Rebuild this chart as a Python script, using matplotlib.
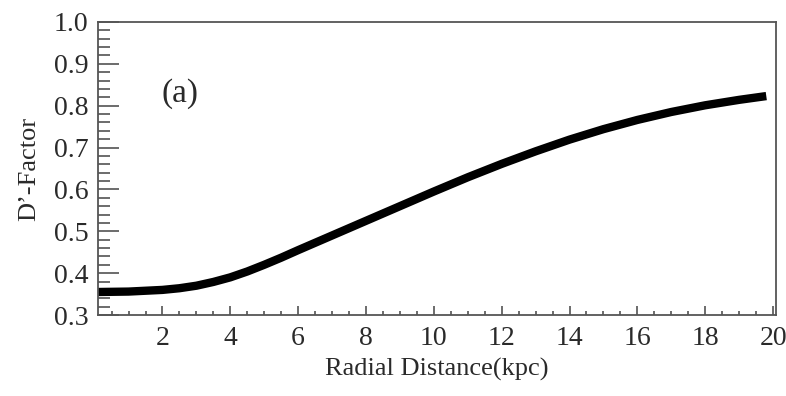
#!/usr/bin/env python3

import matplotlib
matplotlib.use('Agg')
import matplotlib.pyplot as plt
from matplotlib.ticker import MultipleLocator

# Data
radius = [0.1, 1, 2, 2.5, 3, 3.5, 4, 4.5, 5, 5.5, 6, 7, 8, 9, 10, 11, 12, 13,
          14, 15, 16, 17, 18, 19, 19.8]
d_factor = [0.355, 0.356, 0.360, 0.364, 0.370, 0.379, 0.390, 0.404, 0.420, 0.437,
            0.455, 0.490, 0.525, 0.560, 0.595, 0.629, 0.661, 0.691, 0.719, 0.744,
            0.766, 0.785, 0.801, 0.814, 0.823]
x_ticks = [2, 4, 6, 8, 10, 12, 14, 16, 18, 20]
y_ticks = [0.3, 0.4, 0.5, 0.6, 0.7, 0.8, 0.9, 1.0]

plt.rcParams['font.family'] = ['Liberation Serif', 'DejaVu Serif']

fig = plt.figure(figsize=(7.86, 3.96), dpi=100)
ax = fig.add_axes([0.1247, 0.2045, 0.8623, 0.74])

ax.plot(radius, d_factor, color='black', linewidth=6, solid_capstyle='butt',
        solid_joinstyle='round')

ax.set_xlim(0.1, 20.08)
ax.set_ylim(0.3, 1.0)
ax.set_xticks(x_ticks)
ax.set_yticks(y_ticks)
ax.set_yticklabels([f'{v:.1f}' for v in y_ticks])
ax.xaxis.set_minor_locator(MultipleLocator(0.5))
ax.yaxis.set_minor_locator(MultipleLocator(0.02))

text_color = '#2a2a2a'
ax.tick_params(axis='both', which='both', direction='in', top=False, right=False,
               colors='#444444', labelcolor=text_color, labelsize=20, width=1.1)
ax.tick_params(axis='x', which='major', length=6.5, pad=8)
ax.tick_params(axis='x', which='minor', length=3)
ax.tick_params(axis='y', which='major', length=15, pad=7)
ax.tick_params(axis='y', which='minor', length=8.5)

for side in ax.spines.values():
    side.set_color('#555555')
    side.set_linewidth(1.3)

ax.set_xlabel('Radial Distance(kpc)', fontsize=19, color=text_color, labelpad=5)
ax.set_ylabel('D\u2019-Factor', fontsize=19, color=text_color, labelpad=10)

ax.text(0.121, 0.754, '(a)', transform=ax.transAxes, fontsize=24,
        color=text_color, ha='center', va='center')

fig.savefig('out.png', dpi=100)
